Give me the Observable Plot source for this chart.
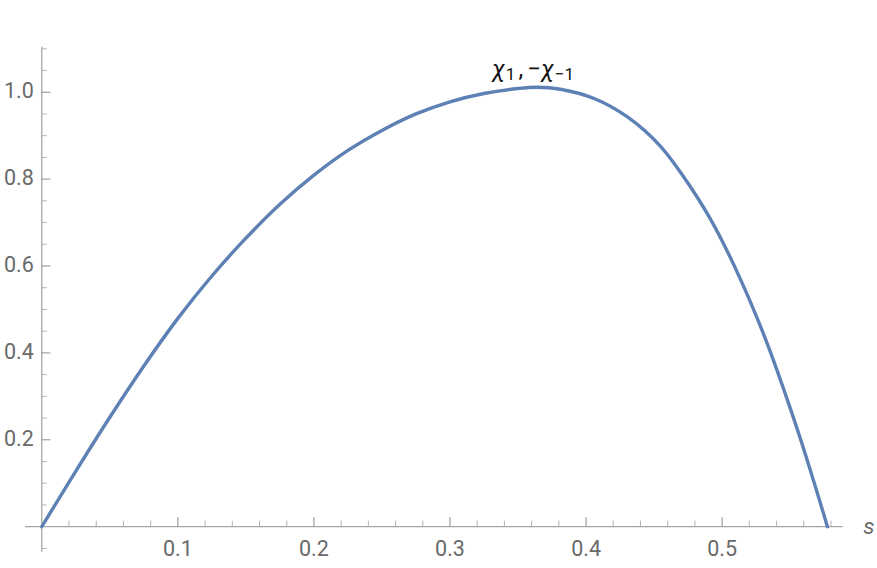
<!DOCTYPE html>
<html>
<head>
<meta charset="utf-8">
<script src="https://cdn.jsdelivr.net/npm/d3@7"></script>
<script src="https://cdn.jsdelivr.net/npm/@observablehq/plot@0.6"></script>
<style>
  html, body { margin: 0; padding: 0; background: #fff; }
  #chart { width: 877px; height: 568px; }
</style>
</head>
<body>
<div id="chart"></div>
<script>
// ---- data ----
const sValues = [0, 0.025, 0.05, 0.075, 0.1, 0.125, 0.15, 0.175, 0.2, 0.225, 0.25, 0.275, 0.3, 0.325, 0.35, 0.364, 0.3812, 0.4059, 0.4304, 0.4547, 0.4768, 0.489, 0.5013, 0.5135, 0.5258, 0.5355, 0.5565, 0.5774];
const chiValues = [0, 0.128, 0.252, 0.370, 0.4795, 0.577, 0.664, 0.742, 0.809, 0.866, 0.912, 0.950, 0.978, 0.997, 1.0085, 1.0115, 1.0068, 0.9855, 0.943, 0.8755, 0.782, 0.721, 0.6497, 0.5692, 0.4794, 0.4018, 0.212, 0];
const xTickLabels = [0.1, 0.2, 0.3, 0.4, 0.5];
const yTickLabels = [0.2, 0.4, 0.6, 0.8, 1.0];
const xMinorTicks = [0.02, 0.04, 0.06, 0.08, 0.12, 0.14, 0.16, 0.18, 0.22, 0.24, 0.26, 0.28, 0.32, 0.34, 0.36, 0.38, 0.42, 0.44, 0.46, 0.48, 0.52, 0.54, 0.56, 0.58];
const yMinorTicks = [-0.05, 0.05, 0.1, 0.15, 0.25, 0.3, 0.35, 0.45, 0.5, 0.55, 0.65, 0.7, 0.75, 0.85, 0.9, 0.95, 1.05, 1.1];
const curveLabel = "χ1,−χ−1";
const axisLabel = "s";

const data = sValues.map((s, i) => ({s, chi: chiValues[i]}));

// ---- layout ----
const W = 877, H = 568;
const xDomain = [0, 0.6], yDomain = [0, 1.1];
const mL = 41.3, mR = 19.3, mT = 48.25, mB = 41.8;
const pxPerX = (W - mL - mR) / (xDomain[1] - xDomain[0]);
const pxPerY = (H - mT - mB) / (yDomain[1] - yDomain[0]);
const xAxisExtent = [-0.012, 0.589];
const yAxisExtent = [-0.0587, 1.1036];
const majorLen = 9, minorLen = 5.5;

const axisColor = "#8f8f8f";
const minorColor = "#b3b3b3";
const labelColor = "#6a6a6a";
const font = "Roboto, 'Liberation Sans', sans-serif";
const fs = 21.5;

const peak = data.reduce((a, b) => (b.chi > a.chi ? b : a));

const chart = Plot.plot({
  width: W,
  height: H,
  marginLeft: mL, marginRight: mR, marginTop: mT, marginBottom: mB,
  x: {domain: xDomain, axis: null},
  y: {domain: yDomain, axis: null},
  style: {fontFamily: font, background: "#fff", overflow: "visible"},
  marks: [
    // axis lines
    Plot.ruleY([0], {x1: xAxisExtent[0], x2: xAxisExtent[1], stroke: axisColor, strokeWidth: 1}),
    Plot.ruleX([0], {y1: yAxisExtent[0], y2: yAxisExtent[1], stroke: axisColor, strokeWidth: 1}),
    // x ticks (pointing up)
    Plot.ruleX(xMinorTicks, {x: d => d, y1: 0, y2: minorLen / pxPerY, stroke: minorColor, strokeWidth: 1}),
    Plot.ruleX(xTickLabels, {x: d => d, y1: 0, y2: majorLen / pxPerY, stroke: axisColor, strokeWidth: 1}),
    // y ticks (pointing right)
    Plot.ruleY(yMinorTicks, {y: d => d, x1: 0, x2: minorLen / pxPerX, stroke: minorColor, strokeWidth: 1}),
    Plot.ruleY(yTickLabels, {y: d => d, x1: 0, x2: majorLen / pxPerX, stroke: axisColor, strokeWidth: 1}),
    // tick labels
    Plot.text(xTickLabels, {x: d => d, y: 0, text: d => d.toFixed(1), dy: 22, fill: labelColor, fontSize: fs, textAnchor: "middle", lineAnchor: "middle"}),
    Plot.text(yTickLabels, {x: 0, y: d => d, text: d => d.toFixed(1), dx: -8, dy: -1, fill: labelColor, fontSize: fs, textAnchor: "end", lineAnchor: "middle"}),
    // axis label
    Plot.text([axisLabel], {x: xAxisExtent[1], y: 0, text: d => d, dx: 20, dy: 0, fill: labelColor, fontSize: fs + 1, fontStyle: "italic", textAnchor: "start", lineAnchor: "middle"}),
    // curve
    Plot.line(data, {x: "s", y: "chi", stroke: "#5e81b5", strokeWidth: 3.4, curve: "catmull-rom"}),
    // curve label
    Plot.text([curveLabel], {x: peak.s - 0.003, y: peak.chi, text: d => d, dy: -10, fill: "#111", fontSize: 24, textAnchor: "middle", lineAnchor: "bottom"})
  ]
});

// Format the curve label with italic chi and subscripts (kept as real text)
d3.select(chart).selectAll("text").filter(function() { return this.textContent === curveLabel; }).each(function() {
  const t = d3.select(this);
  t.text(null);
  const parts = [
    {t: "χ", italic: true},
    {t: "1", sub: true, gap: 1},
    {t: ",", gap: 3},
    {t: "−", gap: 4},
    {t: "χ", italic: true},
    {t: "−1", sub: true, gap: 1}
  ];
  let shifted = false;
  parts.forEach(p => {
    const sp = t.append("tspan").text(p.t);
    if (p.italic) sp.attr("font-style", "italic");
    if (p.gap) sp.attr("dx", p.gap);
    if (p.sub) { sp.attr("font-size", 17).attr("dy", shifted ? 0 : 3); shifted = true; }
    else if (shifted) { sp.attr("dy", -3); shifted = false; }
  });
});

document.getElementById("chart").appendChild(chart);
</script>
</body>
</html>
